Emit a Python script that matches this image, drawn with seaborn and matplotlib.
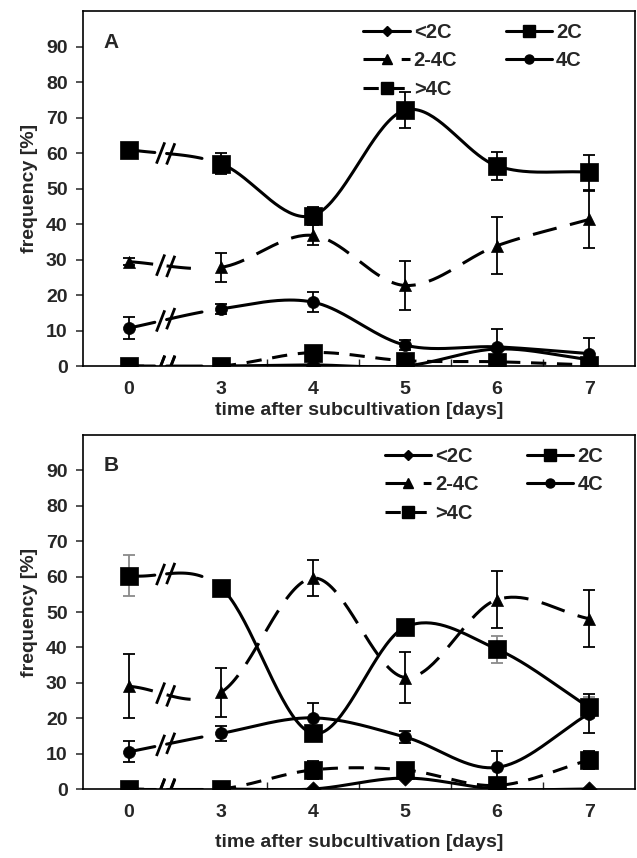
import numpy as np
import pandas as pd
import seaborn as sns
import matplotlib.pyplot as plt
from matplotlib.lines import Line2D

# days after subcultivation (plotted as equally spaced categories, axis break between 0 and 3)
days = ['0', '3', '4', '5', '6', '7']
series_names = ['<2C', '2C', '2-4C', '4C', '>4C']

# panel A values [%] and errors
a_lt2c = [0.0, 0.0, 0.3, 0.0, 4.8, 1.8]
a_2c = [61.0, 57.0, 42.4, 72.1, 56.4, 54.6]
a_2to4c = [29.4, 27.8, 36.8, 22.7, 33.9, 41.3]
a_4c = [10.7, 16.1, 18.0, 5.9, 5.4, 3.5]
a_gt4c = [0.0, 0.0, 3.8, 1.5, 1.2, 0.3]

a_lt2c_err = [0.0, 0.0, 0.0, 0.0, 0.0, 0.0]
a_2c_err = [1.5, 3.0, 2.5, 5.0, 4.0, 5.0]
a_2to4c_err = [1.0, 4.0, 2.8, 7.0, 8.0, 8.0]
a_4c_err = [3.0, 1.5, 2.8, 1.5, 5.0, 4.5]
a_gt4c_err = [0.0, 0.0, 1.5, 0.0, 0.0, 0.0]

# panel B values [%] and errors
b_lt2c = [0.0, 0.0, 0.0, 3.1, 0.0, 0.0]
b_2c = [60.3, 56.9, 15.7, 45.7, 39.5, 23.1]
b_2to4c = [29.0, 27.3, 59.6, 31.5, 53.5, 48.1]
b_4c = [10.5, 15.7, 20.1, 14.7, 6.1, 21.3]
b_gt4c = [0.0, 0.0, 5.4, 5.4, 1.0, 8.2]

b_lt2c_err = [0.0, 0.0, 0.0, 0.0, 0.0, 0.0]
b_2c_err = [5.9, 1.5, 1.5, 2.0, 3.8, 3.0]
b_2to4c_err = [9.0, 7.0, 5.0, 7.2, 8.0, 8.0]
b_4c_err = [3.0, 2.0, 4.3, 1.8, 4.5, 5.5]
b_gt4c_err = [0.0, 0.0, 2.5, 1.5, 0.0, 2.5]

sns.set_theme(style="ticks")
plt.rcParams['font.family'] = ['Liberation Sans', 'DejaVu Sans']
plt.rcParams['font.weight'] = 'bold'

FS = 14

styles = {
    '<2C': dict(marker='D', ms=60, ls='-', lw=2.2, lms=5.5),
    '2C': dict(marker='s', ms=150, ls='-', lw=2.2, lms=8),
    '2-4C': dict(marker='^', ms=75, ls=(0, (8, 4.5)), lw=2.2, lms=7),
    '4C': dict(marker='o', ms=75, ls='-', lw=2.2, lms=6.5),
    '>4C': dict(marker='s', ms=150, ls=(0, (5, 3.5)), lw=2.2, lms=8),
}


def smooth(vals, n=40):
    # Catmull-Rom style smoothing, like the smoothed lines of the original
    y = np.asarray(vals, float)
    k = len(y)
    m = np.zeros(k)
    m[1:-1] = (y[2:] - y[:-2]) / 2
    m[0] = y[1] - y[0]
    m[-1] = y[-1] - y[-2]
    xs, ys = [], []
    for i in range(k - 1):
        t = np.linspace(0, 1, n)
        h00 = 2 * t**3 - 3 * t**2 + 1
        h10 = t**3 - 2 * t**2 + t
        h01 = -2 * t**3 + 3 * t**2
        h11 = t**3 - t**2
        xs.append(i + t)
        ys.append(h00 * y[i] + h10 * m[i] + h01 * y[i + 1] + h11 * m[i + 1])
    return np.concatenate(xs), np.concatenate(ys)


def draw_panel(ax, data, errs, letter, leg_x, xlabpad):
    idx = np.arange(len(days))
    for name in series_names:
        st = styles[name]
        xs, ys = smooth(data[name])
        seg = np.full(xs.shape, -1)
        seg[xs <= 0.29] = 0
        seg[(xs >= 0.41) & (xs <= 0.80)] = 1
        seg[xs >= 1] = 2
        df = pd.DataFrame({'x': xs, 'y': ys, 'seg': seg})
        df = df[df.seg >= 0]
        sns.lineplot(data=df, x='x', y='y', units='seg', estimator=None, sort=False,
                     color='black', lw=st['lw'], linestyle=st['ls'], ax=ax, zorder=3)
        # axis-break marks on each line
        for bx in (0.345, 0.455):
            by = np.interp(bx, xs, ys)
            ax.plot([bx - 0.045, bx + 0.045], [by - 3.0, by + 3.0], color='black',
                    lw=2.0, zorder=4, solid_capstyle='butt')
        e = np.asarray(errs[name])
        ecol = '#8a8a8a' if (letter == 'B' and name == '2C') else 'black'
        ax.errorbar(idx, data[name], yerr=np.where(e > 0, e, np.nan), fmt='none',
                    ecolor=ecol, elinewidth=1.3, capsize=4, capthick=1.3, zorder=2)
        sns.scatterplot(x=idx, y=data[name], marker=st['marker'], s=st['ms'],
                        color='black', edgecolor='black', linewidth=0.5, ax=ax,
                        zorder=5, legend=False)

    ax.set_xlim(-0.5, 5.5)
    ax.set_ylim(0, 100)
    ax.set_yticks(np.arange(0, 100, 10))
    ax.set_xticks(idx)
    ax.set_xticklabels(days)
    ax.set_xticks([1.5, 2.5, 3.5, 4.5], minor=True)
    ax.tick_params(axis='x', which='major', length=0, labelsize=FS, pad=11)
    ax.tick_params(axis='x', which='minor', direction='in', length=5, width=1)
    ax.tick_params(axis='y', direction='out', length=5, width=1.1, labelsize=FS, pad=6)
    for lab in ax.get_xticklabels() + ax.get_yticklabels():
        lab.set_fontweight('bold')
    for sp in ax.spines.values():
        sp.set_linewidth(1.2)
        sp.set_color('black')
    ax.set_xlabel('time after subcultivation [days]', fontsize=FS, fontweight='bold',
                  labelpad=xlabpad)
    ax.set_ylabel('frequency [%]', fontsize=FS, fontweight='bold', labelpad=6)
    ax.text(0.038, 0.913, letter, transform=ax.transAxes, fontsize=15, fontweight='bold',
            ha='left', va='center')

    handles = []
    for name in ['<2C', '2-4C', '>4C', '2C', '4C']:
        st = styles[name]
        handles.append(Line2D([], [], color='black', lw=2.2, ls=st['ls'],
                              marker=st['marker'], markersize=st['lms'], label=name))
    ax.legend(handles=handles, ncol=2, loc='upper left', bbox_to_anchor=(leg_x + 0.004, 0.966),
              frameon=False, handlelength=2.3, handletextpad=0.2,
              columnspacing=2.4, labelspacing=0.46, borderaxespad=0, borderpad=0,
              prop={'weight': 'bold', 'size': 14.5})


fig = plt.figure(figsize=(6.37, 8.58), dpi=100)
ax_a = fig.add_axes([0.130, 0.5734, 0.867, 0.4136])
ax_b = fig.add_axes([0.130, 0.0804, 0.867, 0.4126])

data_a = {'<2C': a_lt2c, '2C': a_2c, '2-4C': a_2to4c, '4C': a_4c, '>4C': a_gt4c}
err_a = {'<2C': a_lt2c_err, '2C': a_2c_err, '2-4C': a_2to4c_err, '4C': a_4c_err, '>4C': a_gt4c_err}
data_b = {'<2C': b_lt2c, '2C': b_2c, '2-4C': b_2to4c, '4C': b_4c, '>4C': b_gt4c}
err_b = {'<2C': b_lt2c_err, '2C': b_2c_err, '2-4C': b_2to4c_err, '4C': b_4c_err, '>4C': b_gt4c_err}

draw_panel(ax_a, data_a, err_a, 'A', 0.504, 3)
draw_panel(ax_b, data_b, err_b, 'B', 0.543, 9)

fig.savefig('out.png', dpi=100)
